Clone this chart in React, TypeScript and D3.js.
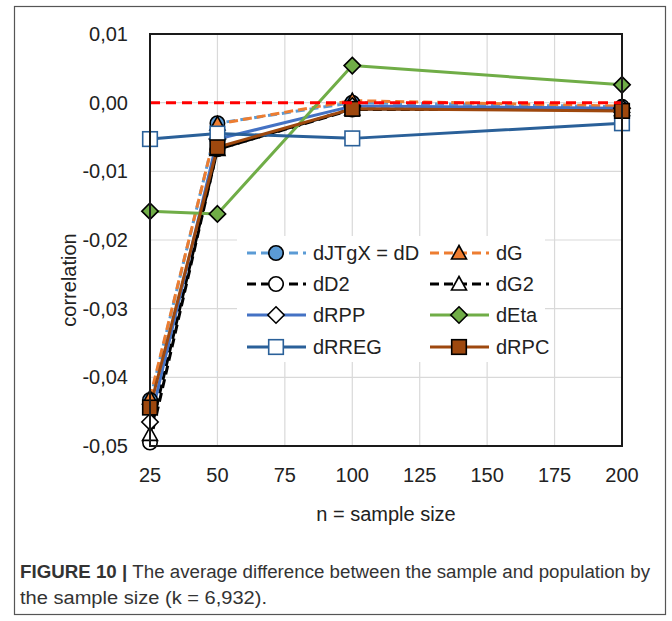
import React from "react";
import * as d3 from "d3";

const sampleSizes = [25, 50, 100, 200];
const xTicks = [25, 50, 75, 100, 125, 150, 175, 200];
const yTicks = [0.01, 0.0, -0.01, -0.02, -0.03, -0.04, -0.05];

const dJTgX = [-0.0433, -0.0030, 0.0000, -0.0006];
const dG = [-0.0430, -0.0031, 0.0003, -0.0005];
const dD2 = [-0.0495, -0.0068, -0.0010, -0.0010];
const dG2 = [-0.0483, -0.0068, -0.0009, -0.0010];
const dRPP = [-0.0465, -0.0053, -0.0005, -0.0008];
const dEta = [-0.0158, -0.0162, 0.0054, 0.0026];
const dRREG = [-0.0053, -0.0045, -0.0052, -0.0030];
const dRPC = [-0.0444, -0.0065, -0.0009, -0.0012];

type Marker = "circle" | "triangle" | "diamond" | "square";
interface Series {
  name: string;
  values: number[];
  color: string;
  dash: string | null;
  marker: Marker;
  fill: string;
  mstroke: string;
}

const series: Series[] = [
  { name: "dJTgX = dD", values: dJTgX, color: "#5B9BD5", dash: "9,5", marker: "circle", fill: "#5B9BD5", mstroke: "#000" },
  { name: "dG", values: dG, color: "#ED7D31", dash: "9,5", marker: "triangle", fill: "#ED7D31", mstroke: "#000" },
  { name: "dD2", values: dD2, color: "#000000", dash: "9,5", marker: "circle", fill: "#FFFFFF", mstroke: "#000" },
  { name: "dG2", values: dG2, color: "#000000", dash: "9,5", marker: "triangle", fill: "#FFFFFF", mstroke: "#000" },
  { name: "dRPP", values: dRPP, color: "#4472C4", dash: null, marker: "diamond", fill: "#FFFFFF", mstroke: "#000" },
  { name: "dEta", values: dEta, color: "#70AD47", dash: null, marker: "diamond", fill: "#70AD47", mstroke: "#000" },
  { name: "dRREG", values: dRREG, color: "#2A6099", dash: null, marker: "square", fill: "#FFFFFF", mstroke: "#2A6099" },
  { name: "dRPC", values: dRPC, color: "#9E480E", dash: null, marker: "square", fill: "#9E480E", mstroke: "#000" },
];

const FONT = "'Liberation Sans', Arial, sans-serif";

function MarkerShape({ type, x, y, fill, stroke }: { type: Marker; x: number; y: number; fill: string; stroke: string }) {
  const sw = 1.6;
  if (type === "circle") return <circle cx={x} cy={y} r={7.2} fill={fill} stroke={stroke} strokeWidth={sw} />;
  if (type === "square") return <rect x={x - 7.3} y={y - 7.3} width={14.6} height={14.6} fill={fill} stroke={stroke} strokeWidth={sw} />;
  if (type === "diamond") {
    const h = 8.2;
    return <path d={`M${x},${y - h}L${x + h},${y}L${x},${y + h}L${x - h},${y}Z`} fill={fill} stroke={stroke} strokeWidth={sw} />;
  }
  const s = 7.5;
  return <path d={`M${x},${y - s}L${x + s},${y + s * 0.8}L${x - s},${y + s * 0.8}Z`} fill={fill} stroke={stroke} strokeWidth={sw} />;
}

export default function App() {
  const left = 150, right = 622, top = 34, bottom = 446;
  const x = d3.scaleLinear().domain([25, 200]).range([left, right]);
  const y = d3.scaleLinear().domain([-0.05, 0.01]).range([bottom, top]);
  const fmt = (v: number) => {
    const s = Math.abs(v).toFixed(2).replace(".", ",");
    return (v < -1e-9 ? "-" : "") + s;
  };
  const line = d3
    .line<number>()
    .x((_, i) => x(sampleSizes[i]))
    .y((d) => y(d));

  const legendCols = [247, 430];
  const legendRows = [253, 284, 315, 347];

  return (
    <svg width={672} height={621} style={{ position: "absolute", left: 0, top: 0 }} fontFamily={FONT}>
      <rect x={0} y={0} width={672} height={621} fill="#fff" />
      <rect x={14.5} y={6.5} width={651} height={608} fill="none" stroke="#555" strokeWidth={1.2} />

      {/* grid */}
      {xTicks.map((t) => (
        <line key={"gx" + t} x1={x(t)} x2={x(t)} y1={top} y2={bottom} stroke="#D9D9D9" strokeWidth={1.2} />
      ))}
      {yTicks.map((t) => (
        <line key={"gy" + t} x1={left} x2={right} y1={y(t)} y2={y(t)} stroke="#D9D9D9" strokeWidth={1.2} />
      ))}

      {/* series lines */}
      {series.map((s) => (
        <path
          key={"l" + s.name}
          d={line(s.values) || ""}
          fill="none"
          stroke={s.color}
          strokeWidth={3}
          strokeDasharray={s.dash || undefined}
          strokeLinejoin="round"
        />
      ))}
      {/* series markers */}
      {series.map((s) =>
        s.values.map((v, i) => (
          <MarkerShape key={"m" + s.name + i} type={s.marker} x={x(sampleSizes[i])} y={y(v)} fill={s.fill} stroke={s.mstroke} />
        ))
      )}

      {/* zero reference line */}
      <line x1={left} x2={right} y1={y(0)} y2={y(0)} stroke="#FF0000" strokeWidth={3} strokeDasharray="10,6" />

      {/* plot frame */}
      <rect x={left} y={top} width={right - left} height={bottom - top} fill="none" stroke="#1a1a1a" strokeWidth={2} />

      {/* axis labels */}
      {yTicks.map((t) => (
        <text key={"ty" + t} x={128} y={y(t)} dy="0.35em" textAnchor="end" fontSize={20} fill="#222">
          {fmt(t)}
        </text>
      ))}
      {xTicks.map((t) => (
        <text key={"tx" + t} x={x(t)} y={482} textAnchor="middle" fontSize={20} fill="#222">
          {t}
        </text>
      ))}
      <text x={(left + right) / 2} y={521} textAnchor="middle" fontSize={20} fill="#222">
        n = sample size
      </text>
      <text transform={`translate(76,280) rotate(-90)`} textAnchor="middle" fontSize={20} fill="#222">
        correlation
      </text>

      {/* legend */}
      <rect x={237} y={236} width={308} height={126} fill="#fff" />
      {series.map((s, i) => {
        const cx = legendCols[i % 2];
        const cy = legendRows[Math.floor(i / 2)];
        return (
          <g key={"lg" + s.name}>
            <line x1={cx} x2={cx + 59} y1={cy} y2={cy} stroke={s.color} strokeWidth={3} strokeDasharray={s.dash || undefined} />
            <MarkerShape type={s.marker} x={cx + 29} y={cy} fill={s.fill} stroke={s.mstroke} />
            <text x={cx + 66} y={cy} dy="0.35em" fontSize={20} fill="#222">
              {s.name}
            </text>
          </g>
        );
      })}

      {/* caption */}
      <text x={20} y={578} fontSize={18} fill="#333" textLength={630} lengthAdjust="spacingAndGlyphs">
        <tspan fontWeight="bold">FIGURE 10 | </tspan>
        <tspan>The average difference between the sample and population by</tspan>
      </text>
      <text x={20} y={604} fontSize={18} fill="#333" textLength={247} lengthAdjust="spacingAndGlyphs">
        the sample size (k = 6,932).
      </text>
    </svg>
  );
}
